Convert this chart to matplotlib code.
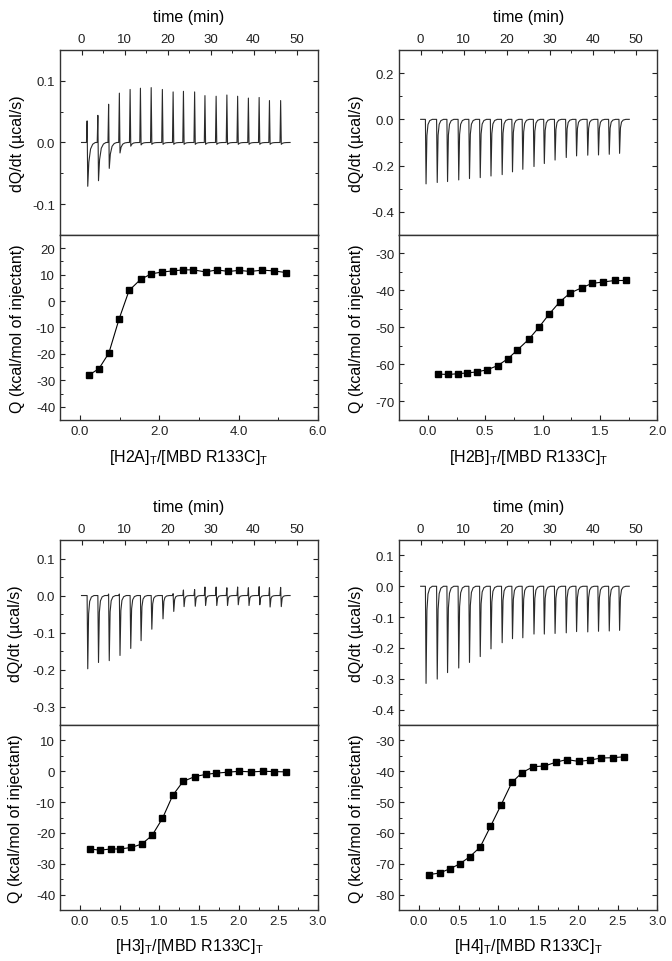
import numpy as np
import matplotlib.pyplot as plt
from matplotlib.ticker import MultipleLocator, FormatStrFormatter

plt.rcParams['font.family'] = ['Liberation Sans', 'DejaVu Sans']
plt.rcParams['axes.unicode_minus'] = False
plt.rcParams['mathtext.default'] = 'regular'

# %%
# raw thermograms: injection time (min), positive and negative peak (ucal/s)
h2a_time = [1.2, 3.7, 6.2, 8.7, 11.2, 13.6, 16.1, 18.7, 21.2, 23.6, 26.2, 28.6,
            31.2, 33.7, 36.2, 38.7, 41.2, 43.6, 46.2]
h2a_up = [0.035, 0.044, 0.062, 0.080, 0.086, 0.088, 0.089, 0.086, 0.082, 0.083,
          0.082, 0.076, 0.075, 0.077, 0.075, 0.072, 0.073, 0.068, 0.068]
h2a_down = [-0.071, -0.062, -0.042, -0.017, -0.006, -0.004, -0.003, -0.003, -0.003,
            -0.003, -0.003, -0.003, -0.003, -0.003, -0.003, -0.003, -0.003, -0.003, -0.003]

h2b_time = [1.0, 3.6, 6.0, 8.6, 11.1, 13.6, 16.1, 18.7, 21.1, 23.5, 26.1, 28.5,
            31.0, 33.6, 36.0, 38.6, 41.1, 43.6, 46.0]
h2b_up = [0.0] * 19
h2b_down = [-0.279, -0.273, -0.269, -0.262, -0.256, -0.252, -0.245, -0.239, -0.227,
            -0.216, -0.204, -0.191, -0.176, -0.165, -0.158, -0.155, -0.154, -0.151, -0.147]

h3_time = [1.2, 3.7, 6.2, 8.7, 11.2, 13.6, 16.1, 18.7, 21.2, 23.6, 26.2, 28.6,
           31.2, 33.7, 36.2, 38.7, 41.2, 43.6, 46.2]
h3_up = [0.0, 0.0, 0.004, 0.004, 0.0, 0.0, 0.0, 0.0, 0.005, 0.015, 0.016, 0.023,
         0.023, 0.021, 0.023, 0.021, 0.024, 0.021, 0.022]
h3_down = [-0.198, -0.181, -0.176, -0.162, -0.143, -0.122, -0.091, -0.063, -0.043,
           -0.030, -0.029, -0.027, -0.027, -0.027, -0.025, -0.027, -0.025, -0.031, -0.030]

h4_time = [1.0, 3.6, 6.0, 8.6, 11.1, 13.6, 16.1, 18.7, 21.1, 23.5, 26.1, 28.5,
           31.0, 33.6, 36.0, 38.6, 41.1, 43.6, 46.0]
h4_up = [0.0] * 19
h4_down = [-0.315, -0.301, -0.280, -0.265, -0.247, -0.228, -0.203, -0.183, -0.170,
           -0.167, -0.155, -0.155, -0.153, -0.151, -0.147, -0.148, -0.146, -0.145, -0.143]

# integrated heats (kcal/mol of injectant) vs molar ratio
h2a_ratio = [0.24, 0.48, 0.73, 0.99, 1.24, 1.53, 1.80, 2.08, 2.34, 2.61, 2.86, 3.17,
             3.45, 3.74, 4.01, 4.29, 4.60, 4.89, 5.18]
h2a_heat = [-27.9, -25.6, -19.7, -6.7, 4.0, 8.2, 10.3, 11.0, 11.4, 11.8, 11.8, 11.0,
            11.8, 11.2, 11.6, 11.2, 11.7, 11.4, 10.8]

h2b_ratio = [0.09, 0.18, 0.26, 0.34, 0.43, 0.52, 0.61, 0.70, 0.78, 0.88, 0.97, 1.06,
             1.15, 1.24, 1.34, 1.43, 1.53, 1.63, 1.73]
h2b_heat = [-62.6, -62.7, -62.5, -62.3, -62.0, -61.4, -60.3, -58.4, -56.1, -53.2,
            -49.9, -46.3, -43.1, -40.7, -39.3, -38.1, -37.7, -37.3, -37.3]

h3_ratio = [0.13, 0.25, 0.39, 0.51, 0.65, 0.78, 0.91, 1.04, 1.17, 1.30, 1.45, 1.59,
            1.72, 1.86, 2.01, 2.16, 2.31, 2.45, 2.60]
h3_heat = [-25.2, -25.6, -25.2, -25.2, -24.7, -23.6, -20.8, -15.3, -7.8, -3.3, -1.7,
           -1.0, -0.6, -0.3, 0.0, -0.2, 0.0, -0.1, -0.2]

h4_ratio = [0.13, 0.26, 0.39, 0.51, 0.64, 0.77, 0.90, 1.03, 1.17, 1.30, 1.44, 1.58,
            1.72, 1.86, 2.01, 2.15, 2.29, 2.44, 2.58]
h4_heat = [-73.5, -73.0, -71.6, -70.1, -67.7, -64.6, -57.9, -51.1, -43.6, -40.4, -38.5,
           -38.3, -37.1, -36.2, -36.8, -36.4, -35.7, -35.6, -35.3]

# %%

def thermogram(times, up, down, slow=False, t_end=48.5):
    """build the dQ/dt trace: quick spike then return to baseline"""
    if slow:
        steps = [0.5, 0.9, 1.4, 2.0]
        frac = [0.45, 0.15, 0.04, 0.0]
    else:
        steps = [0.45, 0.7, 1.1, 1.7]
        frac = [0.25, 0.08, 0.02, 0.0]
    t = [0.0]
    y = [0.0]
    for ti, u, d in zip(times, up, down):
        t += [ti - 0.05, ti + 0.1, ti + 0.25] + [ti + s for s in steps]
        y += [0.0, u, d] + [d * f for f in frac]
    t.append(t_end)
    y.append(0.0)
    return t, y


def itc_panel(fig, x0, y0, trace, ratio, heat, top_lim, top_major, bot_lim,
              x_lim, x_major, name, ylab_x, xlab_y, slow=False):
    w = 0.384
    h = 0.1923
    ax1 = fig.add_axes([x0, y0 + h, w, h])
    ax2 = fig.add_axes([x0, y0, w, h])

    t, y = thermogram(*trace, slow=slow)
    ax1.plot(t, y, color="#2a2a2a", lw=0.8)
    ax1.set_xlim(-5, 55)
    ax1.set_ylim(top_lim)
    ax1.xaxis.set_major_locator(MultipleLocator(10))
    ax1.xaxis.set_minor_locator(MultipleLocator(5))
    ax1.yaxis.set_major_locator(MultipleLocator(top_major))
    ax1.yaxis.set_minor_locator(MultipleLocator(top_major / 2))
    ax1.yaxis.set_major_formatter(FormatStrFormatter('%.1f'))
    ax1.tick_params(which='both', direction='in', top=True, bottom=False,
                    left=True, right=True, labeltop=True, labelbottom=False)
    ax1.xaxis.set_label_position('top')
    ax1.set_xlabel("time (min)", fontsize=11.5)
    ax1.xaxis.set_label_coords(0.5, 1.155)
    ax1.set_ylabel("dQ/dt (\u00b5cal/s)", fontsize=11.5)
    ax1.yaxis.set_label_coords(ylab_x, 0.5)

    ax2.plot(ratio, heat, color="black", lw=0.8, marker='s', ms=4.2)
    ax2.set_xlim(x_lim)
    ax2.set_ylim(bot_lim)
    ax2.xaxis.set_major_locator(MultipleLocator(x_major))
    ax2.xaxis.set_minor_locator(MultipleLocator(x_major / 2))
    ax2.xaxis.set_major_formatter(FormatStrFormatter('%.1f'))
    ax2.yaxis.set_major_locator(MultipleLocator(10))
    ax2.yaxis.set_minor_locator(MultipleLocator(5))
    ax2.yaxis.set_major_formatter(FormatStrFormatter('%d'))
    ax2.tick_params(which='both', direction='in', top=False, bottom=True,
                    left=True, right=True)
    ax2.set_xlabel("[" + name + r"]$_\mathregular{T}$/[MBD R133C]$_\mathregular{T}$",
                   fontsize=11.5)
    ax2.xaxis.set_label_coords(0.5, xlab_y)
    ax2.set_ylabel("Q (kcal/mol of injectant)", fontsize=11.5)
    ax2.yaxis.set_label_coords(ylab_x, 0.5)

    for ax in (ax1, ax2):
        ax.tick_params(which='major', length=3.6, width=0.8, labelsize=9.5, pad=3.5,
                       colors="#222222")
        ax.tick_params(which='minor', length=2, width=0.7, colors="#222222")
        for s in ax.spines.values():
            s.set_color("#333333")
            s.set_linewidth(1.0)
    return ax1, ax2


fig = plt.figure(figsize=(6.72, 9.62), dpi=100)

itc_panel(fig, 0.0893, 0.5624, (h2a_time, h2a_up, h2a_down), h2a_ratio, h2a_heat,
          (-0.15, 0.15), 0.1, (-45, 25), (-0.5, 6.0), 2.0, "H2A", -0.135, -0.145, slow=True)
itc_panel(fig, 0.594, 0.5624, (h2b_time, h2b_up, h2b_down), h2b_ratio, h2b_heat,
          (-0.5, 0.3), 0.2, (-75, -25), (-0.25, 2.0), 0.5, "H2B", -0.137, -0.145)
itc_panel(fig, 0.0893, 0.053, (h3_time, h3_up, h3_down), h3_ratio, h3_heat,
          (-0.35, 0.15), 0.1, (-45, 15), (-0.25, 3.0), 0.5, "H3", -0.143, -0.138)
itc_panel(fig, 0.594, 0.053, (h4_time, h4_up, h4_down), h4_ratio, h4_heat,
          (-0.45, 0.15), 0.1, (-85, -25), (-0.25, 3.0), 0.5, "H4", -0.137, -0.138)

plt.savefig("out.png", dpi=100)
